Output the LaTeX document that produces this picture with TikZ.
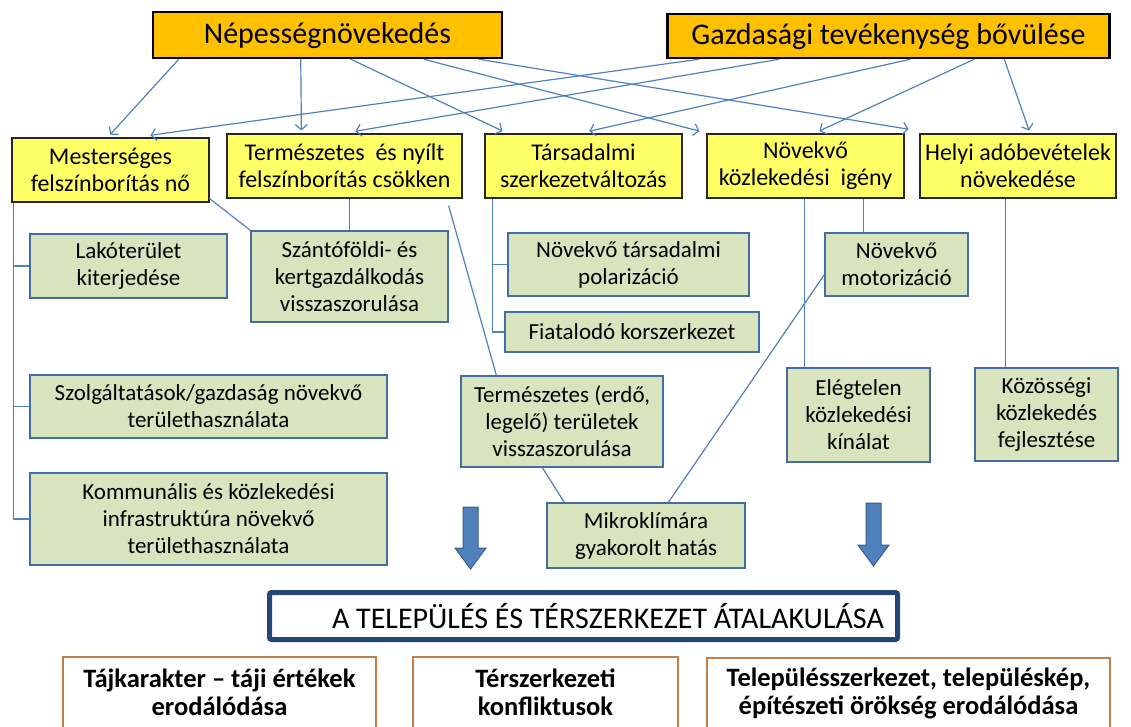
\documentclass[tikz,border=0pt]{standalone}
\usepackage{fontspec}
\setmainfont{Carlito}
\usetikzlibrary{arrows.meta,calc}

\definecolor{connc}{RGB}{79,129,189}
\definecolor{topfill}{RGB}{255,192,0}
\definecolor{yfill}{RGB}{255,255,102}
\definecolor{gfill}{RGB}{215,228,189}
\definecolor{gborder}{RGB}{70,108,168}
\definecolor{bigborder}{RGB}{36,70,120}
\definecolor{brownb}{RGB}{192,128,77}
\definecolor{blkfill}{RGB}{79,129,189}
\definecolor{blkborder}{RGB}{56,93,138}

\tikzset{
  topbox/.style={draw=black, line width=2.5pt, fill=topfill, inner sep=0pt,
    font=\fontsize{30}{34}\selectfont},
  ybox/.style={draw=black!85, line width=1.2pt, fill=yfill, align=center, inner sep=0pt,
    font=\fontsize{24}{27}\selectfont},
  gbox/.style={draw=gborder, line width=1.3pt, fill=gfill, align=center, inner sep=0pt,
    font=\fontsize{23}{27}\selectfont},
  bigbox/.style={draw=bigborder, line width=5pt, rounded corners=2pt, fill=white, inner sep=0pt,
    font=\fontsize{30}{34}\selectfont},
  resbox/.style={draw=brownb, line width=2pt, fill=white, inner sep=0pt,
    font=\fontsize{26.5}{27.5}\selectfont\bfseries},
  conn/.style={draw=connc, line width=1.2pt},
  arr/.style={conn, -{Straight Barb[length=5pt,width=12pt,line width=1.2pt]}, shorten >=1pt},
  blockarrow/.style={fill=blkfill, draw=blkborder, line width=1pt}
}

\begin{document}
\begin{tikzpicture}[x=1pt,y=-1pt]
\useasboundingbox (0,0) rectangle (1131,727);
\clip (0,0) rectangle (1131,727);

% driving forces
\node[topbox, minimum width=349, minimum height=46, text depth=3pt] (nep) at (327.5,35) {Népességnövekedés};
\node[topbox, minimum width=442, minimum height=44, text depth=3pt] (gazd) at (888.5,36) {Gazdasági tevékenység bővülése};

% first-level effects
\node[ybox, minimum width=197, minimum height=64] (mest) at (110.5,170) {Mesterséges\\felszínborítás nő};
\node[ybox, minimum width=235, minimum height=64] (term) at (344.5,166) {Természetes\ \ és nyílt\\felszínborítás csökken};
\node[ybox, minimum width=197, minimum height=64] (tars) at (583.5,166) {Társadalmi\\szerkezetváltozás};
\node[ybox, minimum width=197, minimum height=64] (novk) at (805.5,166) {Növekvő\\közlekedési\ \ igény};
\node[ybox, minimum width=196, minimum height=64] (helyi) at (1018,166) {Helyi adóbevételek\\növekedése};

% second-level effects
\node[gbox, minimum width=197, minimum height=64] (lako) at (128.5,266) {Lakóterület\\kiterjedése};
\node[gbox, minimum width=197, minimum height=91] (szanto) at (349.5,276.5) {Szántóföldi- és\\kertgazdálkodás\\visszaszorulása};
\node[gbox, minimum width=357, minimum height=63] (szolg) at (208.5,406.5) {Szolgáltatások/gazdaság növekvő\\területhasználata};
\node[gbox, minimum width=357, minimum height=92] (komm) at (208.5,519) {Kommunális és közlekedési\\infrastruktúra növekvő\\területhasználata};
\node[gbox, minimum width=241, minimum height=63] (novtars) at (628.5,264.5) {Növekvő társadalmi\\polarizáció};
\node[gbox, minimum width=254, minimum height=40] (fiatal) at (632,332) {Fiatalodó korszerkezet};
\node[gbox, minimum width=202, minimum height=91] (termerdo) at (562,421.5) {Természetes (erdő,\\legelő) területek\\visszaszorulása};
\node[gbox, minimum width=198, minimum height=65] (mikro) at (646,535.5) {Mikroklímára\\gyakorolt hatás};
\node[gbox, minimum width=143, minimum height=63] (novmot) at (896.5,264.5) {Növekvő\\motorizáció};
\node[gbox, minimum width=143, minimum height=94] (elegt) at (858.5,415) {Elégtelen\\közlekedési\\kínálat};
\node[gbox, minimum width=143, minimum height=93] (kozos) at (1046.5,414.5) {Közösségi\\közlekedés\\fejlesztése};

% outcome
\node[bigbox, minimum width=628, minimum height=47] (big) at (583.5,616)
  {\hspace*{49pt}A TELEPÜLÉS ÉS TÉRSZERKEZET ÁTALAKULÁSA};
\node[resbox, minimum width=313, minimum height=78] (res1) at (219.5,696)
  {\begin{tabular}{@{}c@{}}Tájkarakter – táji értékek\\erodálódása\end{tabular}};
\node[resbox, minimum width=265, minimum height=78] (res2) at (545.5,696)
  {\begin{tabular}{@{}c@{}}Térszerkezeti\\konfliktusok\end{tabular}};
\node[resbox, minimum width=403, minimum height=74] (res3) at (908.5,695)
  {\begin{tabular}{@{}c@{}}Településszerkezet, településkép,\\építészeti örökség erodálódása\end{tabular}};

% arrows from population growth
\draw[arr] ($(nep.south west)+(27,0)$) -- ($(mest.north west)+(98,-2)$);
\draw[arr] ($(nep.south west)+(149,0)$) -- ($(term.north west)+(75,-2)$);
\draw[arr] ($(nep.south west)+(199,0)$) -- ($(tars.north west)+(19,-2)$);
\draw[arr] ($(nep.south west)+(272,0)$) -- ($(novk.north west)+(-6,-2)$);
\draw[arr] ($(nep.south west)+(327,0)$) -- ($(novk.north east)+(5,-4)$);

% arrows from economic expansion
\draw[arr] ($(gazd.south west)+(33,0)$) -- ($(mest.north west)+(138,-2)$);
\draw[arr] ($(gazd.south west)+(113,0)$) -- ($(term.north west)+(128,-2)$);
\draw[arr] ($(gazd.south west)+(244,0)$) -- ($(tars.north west)+(104,-2)$);
\draw[arr] ($(gazd.south west)+(308,0)$) -- ($(novk.north west)+(112,-2)$);
\draw[arr] ($(gazd.south west)+(338,0)$) -- ($(helyi.north west)+(110,-2)$);

% land-cover branch
\coordinate (mtree) at ($(mest.south west)+(2,0)$);
\draw[conn] (mtree) |- (lako.west);
\draw[conn] (mtree) |- (szolg.west);
\draw[conn] (mtree) |- (komm.west);
\draw[conn] ($(mest.south east)+(0,-4)$) -- (szanto.north west);
\draw[conn] (szanto.north |- term.south) -- (szanto.north);
\draw[conn] ($(term.south east)+(-14,7)$) -- ($(termerdo.north west)+(36,0)$);
\draw[conn] ($(termerdo.south west)+(82,0)$) -- ($(mikro.north west)+(18,0)$);
\draw[conn] ($(mikro.north west)+(122,0)$) -- ($(novmot.south west)+(0,-22)$);

% social branch
\coordinate (ttree) at ($(tars.south west)+(8,0)$);
\draw[conn] (ttree) |- (novtars.west);
\draw[conn] (ttree) |- (fiatal.west);

% transport and tax branches
\coordinate (e1) at ($(elegt.north west)+(18,0)$);
\draw[conn] (e1 |- novk.south) -- (e1);
\coordinate (m1) at ($(novmot.north west)+(39,0)$);
\draw[conn] (m1 |- novk.south) -- (m1);
\coordinate (k1) at ($(kozos.north west)+(31,0)$);
\draw[conn] (k1 |- helyi.south) -- (k1);

% block arrows towards the outcome
\draw[blockarrow] (463,507) -- (478,507) -- (478,548) -- (486,548) -- (470.5,569)
  -- (455,548) -- (463,548) -- cycle;
\draw[blockarrow] (866,503) -- (881,503) -- (881,545) -- (889,545) -- (873.5,566)
  -- (858,545) -- (866,545) -- cycle;
\end{tikzpicture}
\end{document}
